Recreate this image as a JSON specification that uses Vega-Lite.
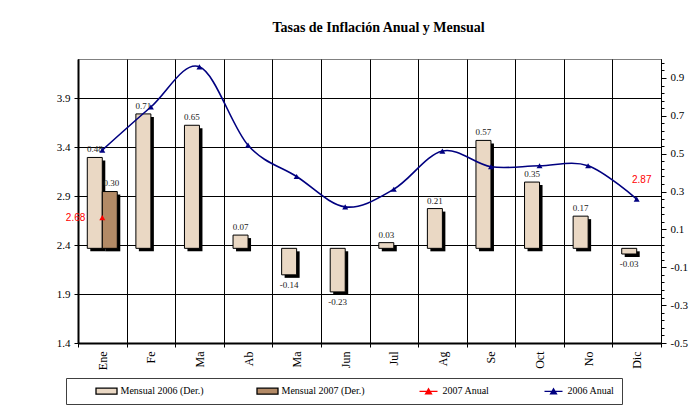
{
  "$schema": "https://vega.github.io/schema/vega-lite/v6.json",
  "width": 583,
  "height": 284,
  "autosize": {"type": "none"},
  "padding": {"left": 78, "top": 59, "right": 32, "bottom": 69},
  "background": "white",
  "title": {
    "text": "Tasas de Inflación Anual y Mensual",
    "font": "Liberation Serif",
    "fontSize": 14,
    "fontWeight": "bold",
    "color": "black",
    "anchor": "middle",
    "frame": "group",
    "offset": 24,
    "dx": 9
  },
  "config": {
    "font": "Liberation Serif",
    "locale": {
      "number": {"decimal": ".", "thousands": ",", "grouping": [3], "currency": ["$", ""], "minus": "-"}
    },
    "view": {"stroke": "#808080", "strokeWidth": 1},
    "axis": {
      "labelFont": "Liberation Serif",
      "labelColor": "black",
      "tickColor": "black",
      "domainColor": "black",
      "gridColor": "black",
      "gridOpacity": 1,
      "gridWidth": 1,
      "title": null
    }
  },
  "datasets": {
    "barras": [
      {"mes": 1, "serie": "Mensual 2006 (Der.)", "v": 0.48},
      {"mes": 2, "serie": "Mensual 2006 (Der.)", "v": 0.71},
      {"mes": 3, "serie": "Mensual 2006 (Der.)", "v": 0.65},
      {"mes": 4, "serie": "Mensual 2006 (Der.)", "v": 0.07},
      {"mes": 5, "serie": "Mensual 2006 (Der.)", "v": -0.14},
      {"mes": 6, "serie": "Mensual 2006 (Der.)", "v": -0.23},
      {"mes": 7, "serie": "Mensual 2006 (Der.)", "v": 0.03},
      {"mes": 8, "serie": "Mensual 2006 (Der.)", "v": 0.21},
      {"mes": 9, "serie": "Mensual 2006 (Der.)", "v": 0.57},
      {"mes": 10, "serie": "Mensual 2006 (Der.)", "v": 0.35},
      {"mes": 11, "serie": "Mensual 2006 (Der.)", "v": 0.17},
      {"mes": 12, "serie": "Mensual 2006 (Der.)", "v": -0.03},
      {"mes": 1, "serie": "Mensual 2007 (Der.)", "v": 0.30}
    ],
    "lineas": [
      {"mes": 1, "serie": "2006 Anual", "v": 3.37},
      {"mes": 2, "serie": "2006 Anual", "v": 3.81},
      {"mes": 3, "serie": "2006 Anual", "v": 4.22},
      {"mes": 4, "serie": "2006 Anual", "v": 3.42},
      {"mes": 5, "serie": "2006 Anual", "v": 3.10},
      {"mes": 6, "serie": "2006 Anual", "v": 2.79},
      {"mes": 7, "serie": "2006 Anual", "v": 2.97},
      {"mes": 8, "serie": "2006 Anual", "v": 3.36},
      {"mes": 9, "serie": "2006 Anual", "v": 3.20},
      {"mes": 10, "serie": "2006 Anual", "v": 3.21},
      {"mes": 11, "serie": "2006 Anual", "v": 3.21},
      {"mes": 12, "serie": "2006 Anual", "v": 2.87},
      {"mes": 1, "serie": "2007 Anual", "v": 2.68}
    ],
    "leyenda": [
      {"mes": 1, "serie": "Mensual 2006 (Der.)", "v": null},
      {"mes": 1, "serie": "Mensual 2007 (Der.)", "v": null},
      {"mes": 1, "serie": "2007 Anual", "v": null},
      {"mes": 1, "serie": "2006 Anual", "v": null}
    ]
  },
  "encoding": {
    "x": {
      "field": "mes",
      "type": "ordinal",
      "scale": {"domain": [1, 2, 3, 4, 5, 6, 7, 8, 9, 10, 11, 12], "paddingInner": 0, "paddingOuter": 0},
      "axis": {
        "title": null,
        "labelExpr": "['Ene','Fe','Ma','Ab','Ma','Jun','Jul','Ag','Se','Oct','No','Dic'][datum.value-1]",
        "labelAngle": 270,
        "labelFontSize": 12,
        "labelPadding": 4,
        "tickBand": "extent",
        "tickSize": 4,
        "grid": true,
        "domainWidth": 2
      }
    }
  },
  "layer": [
    {
      "data": {"name": "barras"},
      "encoding": {
        "y": {
          "field": "v",
          "type": "quantitative",
          "scale": {"domain": [-0.5, 1.0], "nice": false, "zero": false},
          "axis": {
            "orient": "right",
            "title": null,
            "grid": false,
            "values": [-0.5, -0.46, -0.42, -0.38, -0.34, -0.3, -0.26, -0.22, -0.18, -0.14, -0.1, -0.06, -0.02, 0.02, 0.06, 0.1, 0.14, 0.18, 0.22, 0.26, 0.3, 0.34, 0.38, 0.42, 0.46, 0.5, 0.54, 0.58, 0.62, 0.66, 0.7, 0.74, 0.78, 0.82, 0.86, 0.9, 0.94, 0.98],
            "labelExpr": "abs(datum.value*5+0.5 - round(datum.value*5+0.5)) < 0.01 ? format(datum.value, '.1f') : ''",
            "tickSize": {"condition": {"test": "abs(datum.value*5+0.5 - round(datum.value*5+0.5)) < 0.01", "value": 5}, "value": 3},
            "labelPadding": 4,
            "labelFontSize": 11,
            "domainWidth": 1
          }
        }
      },
      "layer": [
        {
          "transform": [{"filter": "datum.serie == 'Mensual 2006 (Der.)'"}],
          "mark": {"type": "bar", "width": 15, "xOffset": -4.5, "yOffset": 3, "y2Offset": 3, "color": "black"}
        },
        {
          "transform": [{"filter": "datum.serie == 'Mensual 2007 (Der.)'"}],
          "mark": {"type": "bar", "width": 15, "xOffset": 10.5, "yOffset": 3, "y2Offset": 3, "color": "black"}
        },
        {
          "transform": [{"filter": "datum.serie == 'Mensual 2006 (Der.)'"}],
          "mark": {"type": "bar", "width": 15, "xOffset": -7.5, "fill": "#ead8c4", "stroke": "black", "strokeWidth": 1}
        },
        {
          "transform": [{"filter": "datum.serie == 'Mensual 2007 (Der.)'"}],
          "mark": {"type": "bar", "width": 15, "xOffset": 7.5, "fill": "#b38a66", "stroke": "black", "strokeWidth": 1}
        },
        {
          "transform": [{"filter": "datum.serie == 'Mensual 2006 (Der.)' && datum.v >= 0"}],
          "mark": {"type": "text", "xOffset": -7.5, "baseline": "bottom", "dy": -3, "fontSize": 9, "color": "#222", "font": "Liberation Serif"},
          "encoding": {"text": {"field": "v", "type": "quantitative", "format": ".2f"}}
        },
        {
          "transform": [{"filter": "datum.serie == 'Mensual 2006 (Der.)' && datum.v < 0"}],
          "mark": {"type": "text", "xOffset": -7.5, "baseline": "top", "dy": 6, "fontSize": 9, "color": "#222", "font": "Liberation Serif"},
          "encoding": {"text": {"field": "v", "type": "quantitative", "format": ".2f"}}
        },
        {
          "transform": [{"filter": "datum.serie == 'Mensual 2007 (Der.)'"}],
          "mark": {"type": "text", "xOffset": 9, "baseline": "bottom", "dy": -4, "fontSize": 9, "color": "#222", "font": "Liberation Serif"},
          "encoding": {"text": {"field": "v", "type": "quantitative", "format": ".2f"}}
        }
      ]
    },
    {
      "encoding": {
        "y": {
          "field": "v",
          "type": "quantitative",
          "scale": {"domain": [1.4, 4.3], "nice": false, "zero": false},
          "axis": {
            "orient": "left",
            "title": null,
            "grid": true,
            "values": [1.4, 1.9, 2.4, 2.9, 3.4, 3.9],
            "format": ".1f",
            "tickSize": 4,
            "labelPadding": 4,
            "labelFontSize": 11,
            "domainWidth": 2
          }
        }
      },
      "layer": [
        {
          "data": {"name": "lineas"},
          "transform": [{"filter": "datum.serie == '2006 Anual'"}],
          "mark": {"type": "line", "interpolate": "cardinal", "color": "#000080", "strokeWidth": 1.6}
        },
        {
          "data": {"name": "lineas"},
          "transform": [{"filter": "datum.serie == '2006 Anual'"}],
          "mark": {"type": "point", "shape": "triangle-up", "filled": true, "size": 36, "color": "#000080", "opacity": 1}
        },
        {
          "data": {"name": "lineas"},
          "transform": [{"filter": "datum.serie == '2007 Anual'"}],
          "mark": {"type": "point", "shape": "triangle-up", "filled": true, "size": 36, "color": "#ff0000", "opacity": 1}
        },
        {
          "data": {"name": "lineas"},
          "transform": [{"filter": "datum.serie == '2007 Anual'"}],
          "mark": {"type": "text", "align": "right", "dx": -17, "baseline": "middle", "fontSize": 10, "color": "#ff0000", "font": "Liberation Sans"},
          "encoding": {"text": {"field": "v", "type": "quantitative", "format": ".2f"}}
        },
        {
          "data": {"name": "lineas"},
          "transform": [{"filter": "datum.serie == '2006 Anual' && datum.mes == 12"}],
          "mark": {"type": "text", "align": "center", "dx": 5, "dy": -19, "baseline": "middle", "fontSize": 10, "color": "#ff0000", "font": "Liberation Sans"},
          "encoding": {"text": {"field": "v", "type": "quantitative", "format": ".2f"}}
        },
        {
          "data": {"name": "leyenda"},
          "mark": {"type": "point", "opacity": 1, "filled": true},
          "encoding": {
            "fill": {
              "field": "serie", "type": "nominal",
              "scale": {"domain": ["Mensual 2006 (Der.)", "Mensual 2007 (Der.)", "2007 Anual", "2006 Anual"], "range": ["#ead8c4", "#b38a66", "#ff0000", "#000080"]},
              "legend": {"title": null, "orient": "none", "legendX": -12, "legendY": 319, "direction": "horizontal", "columns": 4, "columnPadding": 30, "symbolOffset": 27.5, "padding": 7, "strokeColor": "#404040", "labelFont": "Liberation Serif", "labelFontSize": 10, "labelColor": "black", "symbolSize": 100, "symbolStrokeWidth": 1.3, "labelOffset": 8, "labelExpr": "datum.label == '2006 Anual' ? datum.label + '\u2003\u2003' : datum.label"}
            },
            "stroke": {
              "field": "serie", "type": "nominal",
              "scale": {"domain": ["Mensual 2006 (Der.)", "Mensual 2007 (Der.)", "2007 Anual", "2006 Anual"], "range": ["#000000", "#000000", "#ff0000", "#000080"]},
              "legend": {"title": null, "orient": "none", "legendX": -12, "legendY": 319, "direction": "horizontal", "columns": 4, "columnPadding": 30, "symbolOffset": 27.5, "padding": 7, "strokeColor": "#404040", "labelFont": "Liberation Serif", "labelFontSize": 10, "labelColor": "black", "symbolSize": 100, "symbolStrokeWidth": 1.3, "labelOffset": 8, "labelExpr": "datum.label == '2006 Anual' ? datum.label + '\u2003\u2003' : datum.label"}
            },
            "shape": {
              "field": "serie", "type": "nominal",
              "scale": {"domain": ["Mensual 2006 (Der.)", "Mensual 2007 (Der.)", "2007 Anual", "2006 Anual"], "range": ["M-2.1,-0.6H2.1V0.6H-2.1Z", "M-2.1,-0.6H2.1V0.6H-2.1Z", "M-1.8,0H1.8M-0.6,0.5L0,-0.55L0.6,0.5Z", "M-1.8,0H1.8M-0.6,0.5L0,-0.55L0.6,0.5Z"]},
              "legend": {"title": null, "orient": "none", "legendX": -12, "legendY": 319, "direction": "horizontal", "columns": 4, "columnPadding": 30, "symbolOffset": 27.5, "padding": 7, "strokeColor": "#404040", "labelFont": "Liberation Serif", "labelFontSize": 10, "labelColor": "black", "symbolSize": 100, "symbolStrokeWidth": 1.3, "labelOffset": 8, "labelExpr": "datum.label == '2006 Anual' ? datum.label + '\u2003\u2003' : datum.label"}
            }
          }
        }
      ]
    }
  ],
  "resolve": {"scale": {"y": "independent"}}
}
